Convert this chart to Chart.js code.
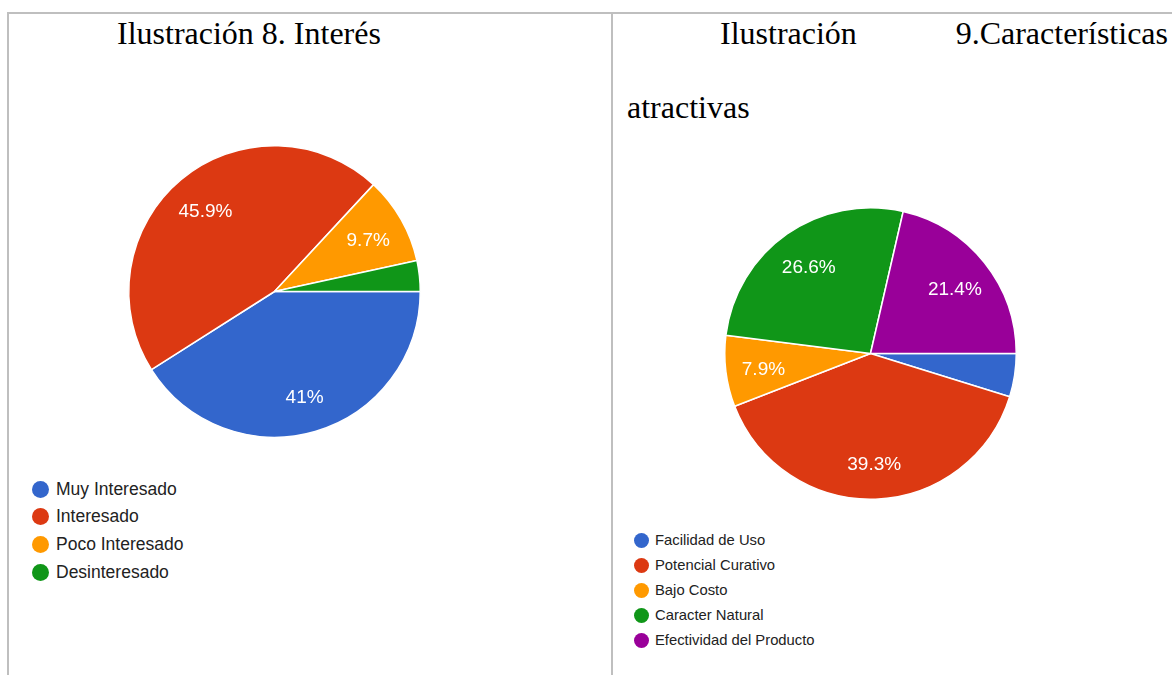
<!DOCTYPE html>
<html>
<head>
<meta charset="utf-8">
<script src="https://cdn.jsdelivr.net/npm/chart.js@4"></script>
<style>
  html, body { margin: 0; padding: 0; background: #fff; }
  body { width: 1172px; height: 675px; position: relative; overflow: hidden; }
  .line { position: absolute; background: #bfbfbf; }
  .title { position: absolute; font-family: "Liberation Serif", "Times New Roman", serif; font-size: 32px; line-height: 32px; color: #000; white-space: nowrap; }
  canvas { position: absolute; }
  .legend { position: absolute; font-family: "Liberation Sans", Arial, sans-serif; color: #222; }
  .legend .item { position: absolute; white-space: nowrap; }
  .legend .dot { position: absolute; border-radius: 50%; }
</style>
</head>
<body>
<div class="line" style="left:7px;top:12px;width:1165px;height:2px;"></div>
<div class="line" style="left:7px;top:12px;width:2px;height:663px;"></div>
<div class="line" style="left:611px;top:12px;width:2px;height:663px;"></div>

<div class="title" style="left:117px;top:17px;">Ilustración 8. Interés</div>
<div class="title" style="left:720px;top:17px;">Ilustración</div>
<div class="title" style="right:4px;top:17px;">9.Características</div>
<div class="title" style="left:627px;top:91px;">atractivas</div>

<canvas id="c1" width="301" height="301" style="left:124px;top:141px;width:301px;height:301px;"></canvas>
<canvas id="c2" width="301" height="301" style="left:720px;top:203px;width:301px;height:301px;"></canvas>

<div class="legend" id="lg1"></div>
<div class="legend" id="lg2"></div>

<script>
// ---- Data ----
const interesLabels = ['Muy Interesado', 'Interesado', 'Poco Interesado', 'Desinteresado'];
const interesValues = [41, 45.9, 9.7, 3.4];
const interesColors = ['#3366cc', '#dc3912', '#ff9900', '#109618'];

const caracLabels = ['Facilidad de Uso', 'Potencial Curativo', 'Bajo Costo', 'Caracter Natural', 'Efectividad del Producto'];
const caracValues = [4.8, 39.3, 7.9, 26.6, 21.4];
const caracColors = ['#3366cc', '#dc3912', '#ff9900', '#109618', '#990099'];

// ---- Percentage labels plugin ----
const pctLabels = {
  id: 'pctLabels',
  afterDatasetsDraw(chart, args, opts) {
    const ctx = chart.ctx;
    const meta = chart.getDatasetMeta(0);
    const vals = chart.data.datasets[0].data;
    ctx.save();
    ctx.font = '19px "Liberation Sans", Arial, sans-serif';
    ctx.fillStyle = '#ffffff';
    ctx.textAlign = 'center';
    ctx.textBaseline = 'middle';
    meta.data.forEach((arc, i) => {
      if (vals[i] < 5) return;
      const p = arc.getProps(['x', 'y', 'startAngle', 'endAngle', 'outerRadius'], true);
      const mid = (p.startAngle + p.endAngle) / 2;
      const r = p.outerRadius * (opts.k || 0.72);
      ctx.fillText(vals[i] + '%', p.x + Math.cos(mid) * r, p.y + Math.sin(mid) * r + (opts.dy || 0));
    });
    ctx.restore();
  }
};

function makePie(id, labels, values, colors) {
  return new Chart(document.getElementById(id), {
    type: 'pie',
    data: {
      labels: labels,
      datasets: [{
        data: values,
        backgroundColor: colors,
        borderColor: '#ffffff',
        borderWidth: 1.5
      }]
    },
    options: {
      responsive: false,
      animation: false,
      rotation: 90,
      layout: { padding: 4 },
      plugins: {
        legend: { display: false },
        tooltip: { enabled: false },
        pctLabels: { k: 0.74, dy: 3 }
      }
    },
    plugins: [pctLabels]
  });
}

makePie('c1', interesLabels, interesValues, interesColors);
makePie('c2', caracLabels, caracValues, caracColors);

function makeLegend(id, labels, colors, x0, y0, step, dot, fontSize, textX) {
  const el = document.getElementById(id);
  labels.forEach((lab, i) => {
    const cy = y0 + step * i;
    const d = document.createElement('div');
    d.className = 'dot';
    d.style.cssText = `left:${x0 - dot / 2}px;top:${cy - dot / 2}px;width:${dot}px;height:${dot}px;background:${colors[i]};`;
    el.appendChild(d);
    const t = document.createElement('div');
    t.className = 'item';
    t.textContent = lab;
    t.style.cssText = `left:${textX}px;top:${cy - fontSize * 0.6}px;font-size:${fontSize}px;line-height:${fontSize * 1.2}px;`;
    el.appendChild(t);
  });
}
makeLegend('lg1', interesLabels, interesColors, 40, 489, 27.7, 17, 17.5, 56);
makeLegend('lg2', caracLabels, caracColors, 641.5, 540.5, 25.1, 15, 14.8, 655);
</script>
</body>
</html>
